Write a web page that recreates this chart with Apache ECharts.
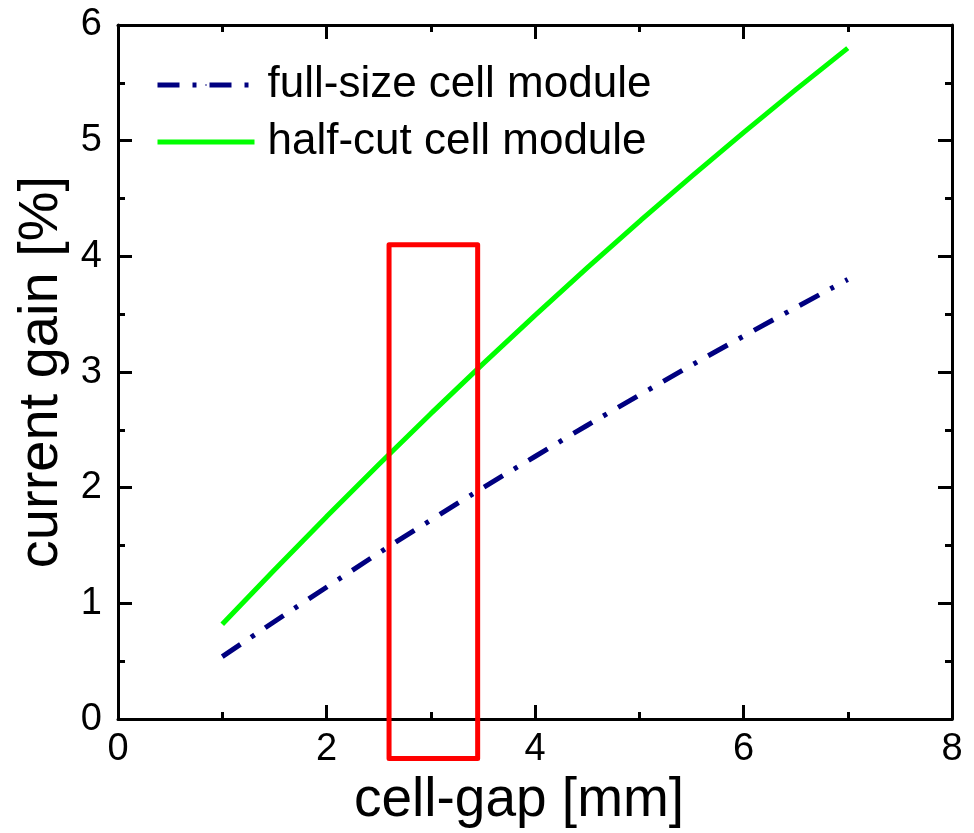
<!DOCTYPE html>
<html>
<head>
<meta charset="utf-8">
<title>current gain vs cell-gap</title>
<script src="https://cdn.jsdelivr.net/npm/echarts@6/dist/echarts.min.js"></script>
<style>
  html, body { margin: 0; padding: 0; background: #fff; }
  #chart { width: 974px; height: 833px; }
</style>
</head>
<body>
<div id="chart"></div>
<script>
// cell gap in mm
const gapMm = [1, 2, 3, 4, 5, 6, 7];
// current gain in % for each module type
const fullSizeGain = [0.54, 1.14, 1.72, 2.27, 2.80, 3.31, 3.80];
const halfCutGain = [0.82, 1.75, 2.64, 3.49, 4.30, 5.07, 5.80];
// highlighted gap range (mm) and its vertical extent (%)
const highlightX = [2.6, 3.45];
const highlightY = [-0.34, 4.1];

const seriesNames = ['full-size cell module', 'half-cut cell module'];

const FONT = 'Liberation Sans, Arial, sans-serif';

function pairs(xs, ys) {
  return xs.map((x, i) => [x, ys[i]]);
}

const rectPath = [
  [highlightX[0], highlightY[0]],
  [highlightX[0], highlightY[1]],
  [highlightX[1], highlightY[1]],
  [highlightX[1], highlightY[0]],
  [highlightX[0], highlightY[0]]
];

const tickStyle = { color: '#000', width: 3 };

function xAxisDef(pos, showLabel) {
  return {
    type: 'value', position: pos, min: 0, max: 8, interval: 2,
    axisLine: { show: true, onZero: false, lineStyle: tickStyle },
    axisTick: { show: true, inside: true, length: 14, lineStyle: tickStyle },
    minorTick: { show: true, splitNumber: 2, length: 7, lineStyle: tickStyle },
    splitLine: { show: false },
    axisLabel: { show: showLabel, color: '#000', fontSize: 38, fontFamily: FONT, margin: 11 }
  };
}
function yAxisDef(pos, showLabel) {
  return {
    type: 'value', position: pos, min: 0, max: 6, interval: 1,
    axisLine: { show: true, onZero: false, lineStyle: tickStyle },
    axisTick: { show: true, inside: true, length: 14, lineStyle: tickStyle },
    minorTick: { show: true, splitNumber: 2, length: 7, lineStyle: tickStyle },
    splitLine: { show: false },
    axisLabel: { show: showLabel, color: '#000', fontSize: 38, fontFamily: FONT, margin: 16 }
  };
}

const xMain = Object.assign(xAxisDef('bottom', true), {
  name: 'cell-gap [mm]', nameLocation: 'middle', nameGap: 50,
  nameTextStyle: { color: '#000', fontSize: 55, fontFamily: FONT, padding: [0, 32, 0, 0] }
});
const yMain = Object.assign(yAxisDef('left', true), {
  name: 'current gain [%]', nameLocation: 'middle', nameGap: 48, nameRotate: 90,
  nameTextStyle: { color: '#000', fontSize: 56, fontFamily: FONT }
});

const chart = echarts.init(document.getElementById('chart'), null, { renderer: 'canvas' });
chart.setOption({
  animation: false,
  backgroundColor: '#fff',
  grid: { left: 118, right: 22, top: 25, bottom: 104, containLabel: false },
  xAxis: [xMain, xAxisDef('top', false)],
  yAxis: [yMain, yAxisDef('right', false)],
  legend: {
    orient: 'vertical', left: 155, top: 63, padding: 0,
    itemWidth: 97, itemHeight: 2, itemGap: 13,
    data: seriesNames,
    lineStyle: { width: 5 },
    textStyle: { color: '#000', fontSize: 44, fontFamily: FONT, padding: [0, 0, 0, 8] }
  },
  series: [
    {
      name: seriesNames[0], type: 'line', xAxisIndex: 0, yAxisIndex: 0,
      data: pairs(gapMm, fullSizeGain), symbol: 'none', smooth: true,
      color: '#000080',
      lineStyle: { color: '#000080', width: 5, type: [22, 13, 4, 13] },
      z: 3
    },
    {
      name: seriesNames[1], type: 'line', xAxisIndex: 0, yAxisIndex: 0,
      data: pairs(gapMm, halfCutGain), symbol: 'none', smooth: true,
      color: '#00ff00',
      lineStyle: { color: '#00ff00', width: 5, type: 'solid' },
      z: 3
    },
    {
      name: 'highlight', type: 'line', xAxisIndex: 0, yAxisIndex: 0,
      data: rectPath, symbol: 'none', clip: false, silent: true,
      color: '#ff0000',
      lineStyle: { color: '#ff0000', width: 5, join: 'round', cap: 'round' },
      z: 4
    }
  ]
});
</script>
</body>
</html>
